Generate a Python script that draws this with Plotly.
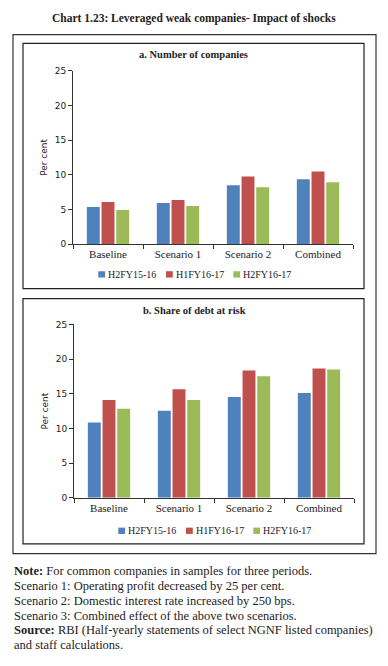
import plotly.graph_objects as go

categories = ["Baseline", "Scenario 1", "Scenario 2", "Combined"]
series_names = ["H2FY15-16", "H1FY16-17", "H2FY16-17"]
colors = ["#4F81BD", "#C0504D", "#9BBB59"]

# Panel a: Number of companies (per cent)
companies_h2fy1516 = [5.35, 5.92, 8.48, 9.33]
companies_h1fy1617 = [6.06, 6.34, 9.75, 10.46]
companies_h2fy1617 = [4.92, 5.49, 8.19, 8.90]

# Panel b: Share of debt at risk (per cent)
debt_h2fy1516 = [10.84, 12.55, 14.54, 15.10]
debt_h1fy1617 = [14.11, 15.67, 18.37, 18.66]
debt_h2fy1617 = [12.83, 14.11, 17.52, 18.51]

y_ticks = [0, 5, 10, 15, 20, 25]

W, H = 388, 666
FONT = "Liberation Serif"
SANS = "DejaVu Sans"
TEXT = "#222222"


def px_x(p):
    return p / W


def px_y(p):
    return 1 - p / H


fig = go.Figure()

panel_a = [companies_h2fy1516, companies_h1fy1617, companies_h2fy1617]
panel_b = [debt_h2fy1516, debt_h1fy1617, debt_h2fy1617]

for name, vals, col in zip(series_names, panel_a, colors):
    fig.add_trace(go.Bar(x=categories, y=vals, name=name, marker=dict(color=col, line=dict(width=0)),
                         xaxis="x", yaxis="y", hoverinfo="x+y+name", showlegend=False))
for name, vals, col in zip(series_names, panel_b, colors):
    fig.add_trace(go.Bar(x=categories, y=vals, name=name, marker=dict(color=col, line=dict(width=0)),
                         xaxis="x2", yaxis="y2", hoverinfo="x+y+name", showlegend=False))

x_font = dict(family=FONT, size=11, color=TEXT)
y_font = dict(family=SANS, size=9, color=TEXT)

xcommon = dict(showline=True, linecolor="#333333", linewidth=1, ticks="outside", tickson="boundaries",
               ticklen=4, tickcolor="#333333", tickfont=x_font, showgrid=False, zeroline=False,
               fixedrange=True)
ycommon = dict(range=[0, 25], tickvals=y_ticks, showline=True, linecolor="#333333", linewidth=1,
               ticks="outside", ticklen=4, tickcolor="#333333", tickfont=y_font, showgrid=False,
               zeroline=False, fixedrange=True,
               title=dict(text="Per cent", font=y_font, standoff=5))

fig.update_layout(
    width=W, height=H,
    margin=dict(l=0, r=0, t=0, b=0),
    paper_bgcolor="white", plot_bgcolor="white",
    barmode="group", bargap=0.37, bargroupgap=0.12,
    font=dict(family=FONT, size=11, color=TEXT),
    xaxis=dict(domain=[px_x(73), px_x(353)], anchor="y", **xcommon),
    yaxis=dict(domain=[px_y(242.7), px_y(66.7)], anchor="x", **ycommon),
    xaxis2=dict(domain=[px_x(74), px_x(354)], anchor="y2", **xcommon),
    yaxis2=dict(domain=[px_y(500.3), px_y(324.3)], anchor="x2", **ycommon),
    showlegend=False,
)

# Boxes
shapes = [
    dict(type="rect", xref="paper", yref="paper", x0=px_x(13), x1=px_x(376), y0=px_y(557), y1=px_y(30),
         line=dict(color="#333333", width=1.2), fillcolor="rgba(0,0,0,0)", layer="below"),
    dict(type="rect", xref="paper", yref="paper", x0=px_x(23), x1=px_x(364), y0=px_y(288), y1=px_y(39),
         line=dict(color="#222222", width=1.2), fillcolor="rgba(0,0,0,0)", layer="below"),
    dict(type="rect", xref="paper", yref="paper", x0=px_x(23), x1=px_x(364), y0=px_y(547), y1=px_y(298),
         line=dict(color="#222222", width=1.2), fillcolor="rgba(0,0,0,0)", layer="below"),
]

annotations = [
    dict(text="<b>Chart 1.23: Leveraged weak companies- Impact of shocks</b>", x=px_x(194), y=px_y(14),
         xref="paper", yref="paper", xanchor="center", yanchor="middle", showarrow=False,
         font=dict(family=FONT, size=11.5, color=TEXT)),
    dict(text="<b>a. Number of companies</b>", x=px_x(193), y=px_y(50), xref="paper", yref="paper",
         xanchor="center", yanchor="middle", showarrow=False, font=dict(family=FONT, size=10.5, color=TEXT)),
    dict(text="<b>b. Share of debt at risk</b>", x=px_x(194), y=px_y(310), xref="paper", yref="paper",
         xanchor="center", yanchor="middle", showarrow=False, font=dict(family=FONT, size=10.5, color=TEXT)),
]

# Legends (one per panel), drawn as keys + labels
legend_key_x = [98.3, 166.0, 233.3]
legend_rows = [(0.0, 273.5), (20.0, 533.8)]  # (x shift, centre y) for panel a and b
for shift, cy in legend_rows:
    for kx, name, col in zip(legend_key_x, series_names, colors):
        x0 = kx + shift
        shapes.append(dict(type="rect", xref="paper", yref="paper", x0=px_x(x0), x1=px_x(x0 + 6.8),
                           y0=px_y(cy + 3.2), y1=px_y(cy - 3.2), line=dict(width=0), fillcolor=col))
        annotations.append(dict(text=name, x=px_x(x0 + 7.5), y=px_y(cy - 0.3), xref="paper", yref="paper",
                                xanchor="left", yanchor="middle", showarrow=False,
                                font=dict(family=FONT, size=10, color=TEXT)))

note_lines = [
    "<b>Note:</b> For common companies in samples for three periods.",
    "Scenario 1: Operating profit decreased by 25 per cent.",
    "Scenario 2: Domestic interest rate increased by 250 bps.",
    "Scenario 3: Combined effect of the above two scenarios.",
    "<b>Source:</b> RBI (Half-yearly statements of select NGNF listed companies)",
    "and staff calculations.",
]
for i, line in enumerate(note_lines):
    annotations.append(dict(text=line, x=px_x(12), y=px_y(575 + 15 * i), xref="paper", yref="paper",
                            xanchor="left", yanchor="middle", showarrow=False, align="left",
                            font=dict(family=FONT, size=12.5, color=TEXT)))

fig.update_layout(shapes=shapes, annotations=annotations)

fig.write_html("out.html", config={"displayModeBar": False},
               post_script="document.body.style.margin='0';document.body.style.padding='0';")
